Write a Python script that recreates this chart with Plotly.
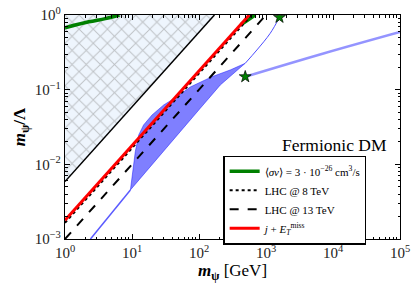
import plotly.graph_objects as go

# ---- data ----
# excluded (hatched) region boundary
excl_x = [1, 170, 1]
excl_y = [0.00588, 1.0, 1.0]
excl_edge_x = [1, 170]
excl_edge_y = [0.00588, 1.0]

# relic density <sigma v> = 3e-26 cm^3/s (two branches)
relic1_x = [1, 2.27, 4.0, 6.5]
relic1_y = [0.676, 0.81, 0.895, 1.0]
relic2_x = [420, 490, 690]
relic2_y = [0.74, 0.813, 1.0]

# LHC limits
lhc8_x = [1, 606]
lhc8_y = [0.00165, 1.0]
lhc13_x = [1, 1000]
lhc13_y = [0.001, 1.0]

# mono-jet + MET
monojet_x = [1, 562]
monojet_y = [0.00178, 1.0]

# blue region (allowed band)
band_x = [9.47, 11.2, 12.6, 14.9, 19.9, 29.7, 47.0, 74.2, 156, 292, 490,
          208, 104.5, 26.5, 9.47]
band_y = [0.00454, 0.0148, 0.0248, 0.0337, 0.0458, 0.0624, 0.0805, 0.1087,
          0.149, 0.1835, 0.2256, 0.1156, 0.0564, 0.0134, 0.00454]
lowline_x = [2.4, 9.47]
lowline_y = [0.001, 0.00454]
upline_x = [490, 731, 1156, 1590]
upline_y = [0.2256, 0.340, 0.569, 0.93]
far_x = [490, 7200, 1e5]
far_y = [0.149, 0.305, 0.592]
star_x = [1590, 490]
star_y = [0.93, 0.149]

x_tickvals = [1, 10, 100, 1e3, 1e4, 1e5]
x_ticktext = ["10<sup>0</sup>", "10<sup>1</sup>", "10<sup>2</sup>",
              "10<sup>3</sup>", "10<sup>4</sup>", "10<sup>5</sup>"]
y_tickvals = [1e-3, 1e-2, 1e-1, 1]
y_ticktext = ["10<sup>−3</sup>", "10<sup>−2</sup>", "10<sup>−1</sup>", "10<sup>0</sup>"]

FONT = "Liberation Serif"

fig = go.Figure()

fig.add_trace(go.Scatter(x=excl_x, y=excl_y, mode="lines", fill="toself",
                         line=dict(width=0), fillcolor="#eef5fd",
                         fillpattern=dict(shape="x", fgcolor="#8c8c8c", bgcolor="#eef5fd",
                                          size=10, solidity=0.18),
                         showlegend=False, hoverinfo="skip"))
fig.add_trace(go.Scatter(x=excl_edge_x, y=excl_edge_y, mode="lines",
                         line=dict(color="black", width=1.5), showlegend=False))

fig.add_trace(go.Scatter(x=band_x, y=band_y, mode="lines", fill="toself",
                         fillcolor="rgba(0,0,255,0.5)",
                         line=dict(color="rgba(0,0,255,0.55)", width=0.8),
                         showlegend=False))
fig.add_trace(go.Scatter(x=lowline_x, y=lowline_y, mode="lines",
                         line=dict(color="#5a5aff", width=1.5), showlegend=False))
fig.add_trace(go.Scatter(x=upline_x, y=upline_y, mode="lines", line_shape="spline",
                         line=dict(color="#4d4dff", width=1), showlegend=False))
fig.add_trace(go.Scatter(x=far_x, y=far_y, mode="lines", line_shape="spline",
                         line=dict(color="rgba(60,60,255,0.55)", width=2.5), showlegend=False))

fig.add_trace(go.Scatter(x=relic1_x, y=relic1_y, mode="lines", line_shape="spline",
                         line=dict(color="green", width=3.5),
                         name="⟨<i>σv</i>⟩ = 3 · 10<sup>−26</sup> cm<sup>3</sup>/s"))
fig.add_trace(go.Scatter(x=relic2_x, y=relic2_y, mode="lines", line_shape="spline",
                         line=dict(color="green", width=3.5), showlegend=False))

fig.add_trace(go.Scatter(x=lhc8_x, y=lhc8_y, mode="lines",
                         line=dict(color="black", width=2, dash="dot"),
                         name="LHC @ 8 TeV"))
fig.add_trace(go.Scatter(x=lhc13_x, y=lhc13_y, mode="lines",
                         line=dict(color="black", width=2, dash="dash"),
                         name="LHC @ 13 TeV"))
fig.add_trace(go.Scatter(x=monojet_x, y=monojet_y, mode="lines",
                         line=dict(color="red", width=3),
                         name="<i>j</i> + <i>E</i><sub><i>T</i></sub><sup>miss</sup>"))

fig.add_trace(go.Scatter(x=star_x, y=star_y, mode="markers",
                         marker=dict(symbol="star", size=9, color="green",
                                     line=dict(color="black", width=0.7)),
                         showlegend=False))

axis_common = dict(type="log", showgrid=False, zeroline=False, showline=True,
                   linecolor="black", linewidth=1.2, mirror="allticks",
                   ticks="inside", ticklen=5, tickcolor="black", automargin=False,
                   ticklabeloverflow="allow",
                   tickfont=dict(family=FONT, size=15, color="#222"),
                   minor=dict(ticks="inside", ticklen=2.5, tickcolor="black", dtick="D1"))

fig.update_xaxes(**axis_common, range=[0, 5], tickvals=x_tickvals, ticktext=x_ticktext,
                 title=dict(text="<b><i>m</i><sub>ψ</sub></b> [GeV]",
                            font=dict(family=FONT, size=17, color="black"), standoff=2))
fig.update_yaxes(**axis_common, range=[-3, 0], tickvals=y_tickvals, ticktext=y_ticktext,
                 title=dict(text="<b><i>m</i><sub>ψ</sub>/Λ</b>",
                            font=dict(family=FONT, size=17, color="black"), standoff=4))

fig.add_annotation(text="Fermionic DM", xref="paper", yref="paper", x=0.967, y=0.42,
                   xanchor="right", yanchor="middle", showarrow=False,
                   font=dict(family=FONT, size=17.5, color="black"))

fig.update_layout(
    width=418, height=289,
    margin=dict(l=64.5, r=18, t=15, b=50),
    paper_bgcolor="white", plot_bgcolor="white",
    hovermode=False,
    legend=dict(x=0.473, y=0.372, xanchor="left", yanchor="top",
                bgcolor="white", bordercolor="black", borderwidth=1.2,
                font=dict(family=FONT, size=11, color="black"),
                tracegroupgap=0, itemwidth=30),
)

# remove the page's default 8px body margin so the figure fills the window
fig.write_html("out.html", config={"displayModeBar": False, "staticPlot": True},
               post_script="document.body.style.margin='0px';")
